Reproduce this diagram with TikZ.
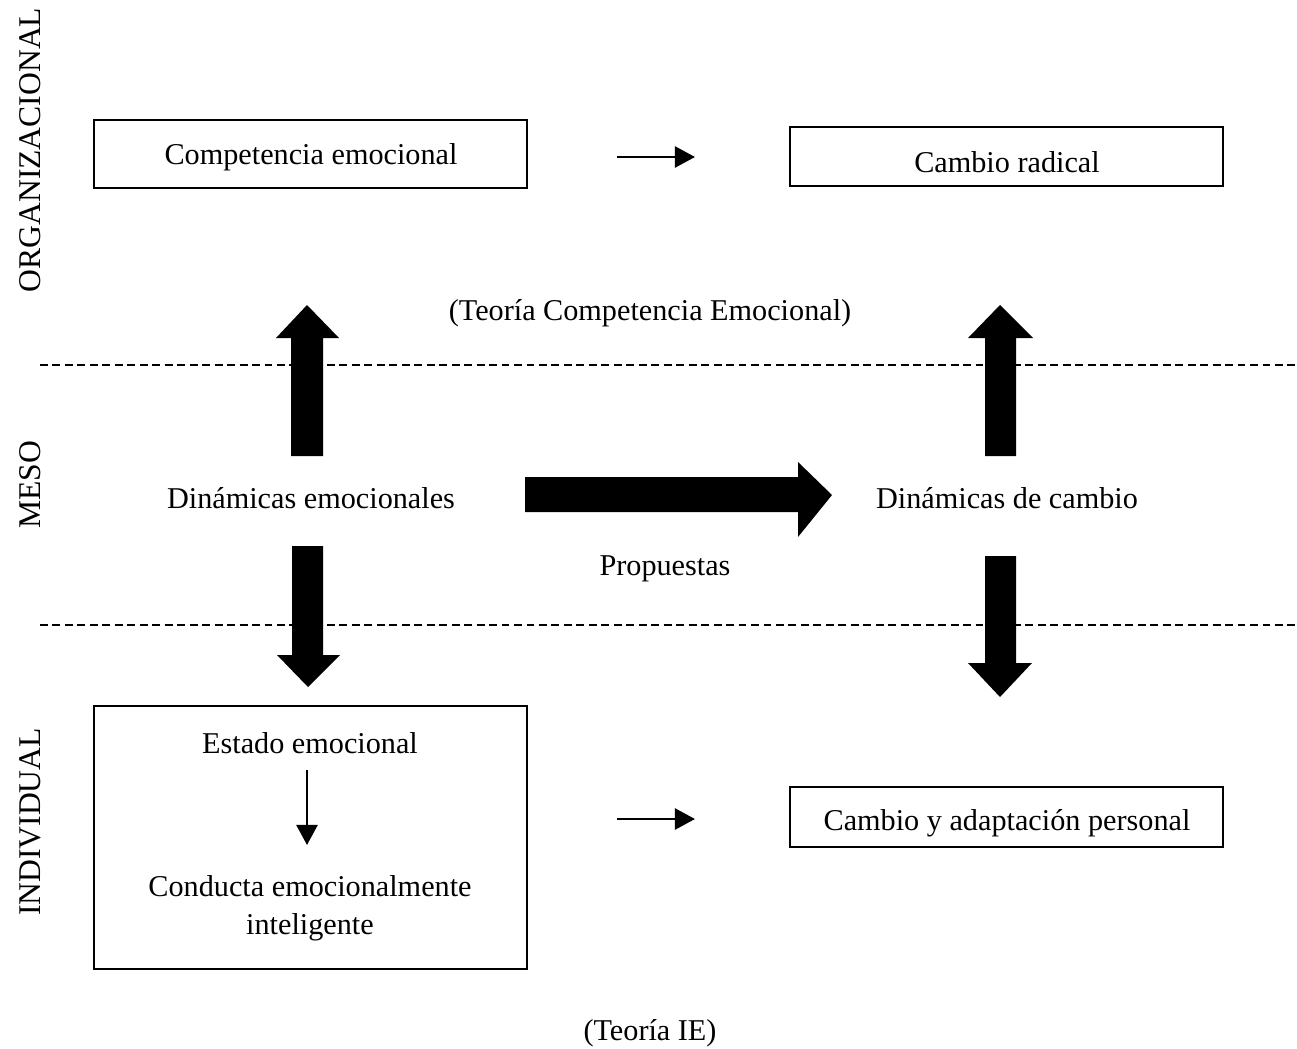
\documentclass[tikz,border=0pt]{standalone}
\usepackage{fontspec}
\setmainfont{Liberation Serif}
\usetikzlibrary{arrows.meta}
\begin{document}
\begin{tikzpicture}[x={(0.02cm,0)},y={(0,-0.02cm)},
  txt/.style={font=\fontsize{17.2}{20}\selectfont, inner sep=0pt},
  sidelbl/.style={font=\fontsize{18}{20}\selectfont, rotate=90, inner sep=0pt},
  framebox/.style={draw, line width=1pt},
  thin arrow/.style={line width=1.6pt, -{Triangle[length=11.5pt,width=12pt]}},
  fat arrow/.style={fill=black},
  levelline/.style={line width=1.4pt, dash pattern=on 4.5pt off 2.6pt}]
\useasboundingbox (0,0) rectangle (1297,1048);

% level labels
\node[sidelbl] (org) at (30,150) {ORGANIZACIONAL};
\node[sidelbl] (meso) at (30,485) {MESO};
\node[sidelbl] (ind) at (30,822) {INDIVIDUAL};

% level separators
\draw[levelline] (40,365) -- (1297,365);
\draw[levelline] (40,625) -- (1297,625);

% boxes
\draw[framebox] (94,120) rectangle (527,188);
\node[txt] (comp) at (311,157) {Competencia emocional};
\draw[framebox] (790,127) rectangle (1223,186);
\node[txt] (radical) at (1007,162) {Cambio radical};
\draw[framebox] (94,706) rectangle (527,969);
\node[txt] (estado) at (310,743) {Estado emocional};
\node[txt, align=center, font=\fontsize{17.2}{21.5}\selectfont] (conducta) at (310,908) {Conducta emocionalmente\\inteligente};
\draw[framebox] (790,787) rectangle (1223,847);
\node[txt] (adapt) at (1007,823) {Cambio y adaptación personal};

% texts
\node[txt] (tce) at (650,313) {(Teoría Competencia Emocional)};
\node[txt] (dinemo) at (311,498) {Dinámicas emocionales};
\node[txt] (dincam) at (1007,498) {Dinámicas de cambio};
\node[txt] (prop) at (665,569) {Propuestas};
\node[txt] (tie) at (650,1033) {(Teoría IE)};

% thin arrows
\coordinate (t1) at (617,157); \coordinate (t2) at (695,157);
\draw[thin arrow] (t1) -- (t2);
\coordinate (b1) at (617,819); \coordinate (b2) at (695,819);
\draw[thin arrow] (b1) -- (b2);
\coordinate (v1) at (307,770); \coordinate (v2) at (307,845);
\draw[thin arrow] (v1) -- (v2);

% fat arrows
\fill[fat arrow] (291,456) -- (291,338) -- (276,338) -- (307,305) -- (339,338) -- (323,338) -- (323,456) -- cycle;
\fill[fat arrow] (292,546) -- (292,655) -- (277,655) -- (308,687) -- (340,655) -- (323,655) -- (323,546) -- cycle;
\fill[fat arrow] (525,477) -- (798,477) -- (798,462) -- (832,495) -- (798,537) -- (798,512) -- (525,512) -- cycle;
\fill[fat arrow] (985,456) -- (985,338) -- (968,338) -- (1000,305) -- (1033,338) -- (1016,338) -- (1016,456) -- cycle;
\fill[fat arrow] (985,556) -- (985,663) -- (968,663) -- (1000,697) -- (1032,663) -- (1016,663) -- (1016,556) -- cycle;
\end{tikzpicture}
\end{document}
